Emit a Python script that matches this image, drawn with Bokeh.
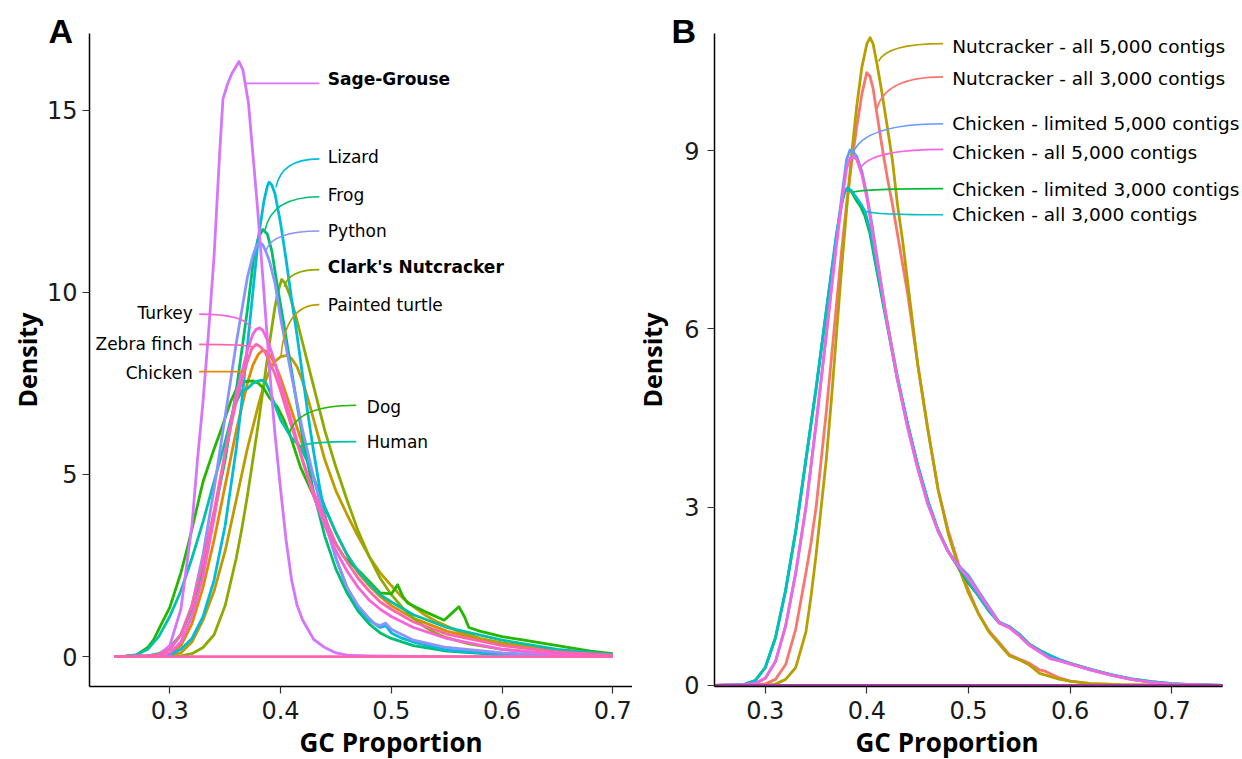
from bokeh.plotting import figure
from bokeh.layouts import row
from bokeh.models import Range1d, Label, FixedTicker, Title
from bokeh.embed import file_html
from bokeh.resources import INLINE

# ---------------- Panel A data (GC proportion vs density) ----------------
chicken_x = [0.25,0.29,0.30,0.31,0.32,0.33,0.34,0.35,0.36,0.37,0.375,0.38,0.384,0.388,0.392,0.396,0.40,0.405,0.41,0.42,0.43,0.44,0.45,0.46,0.47,0.48,0.49,0.50,0.52,0.55,0.60,0.65,0.70]
chicken_d = [0,0.02,0.08,0.3,0.9,1.9,3.2,4.7,6.2,7.5,8.0,8.3,8.41,8.37,8.2,7.95,7.65,7.2,6.75,5.8,4.9,4.1,3.4,2.8,2.3,1.95,1.65,1.4,1.05,0.7,0.33,0.14,0.05]

turtle_x = [0.25,0.30,0.31,0.32,0.33,0.34,0.35,0.36,0.37,0.38,0.385,0.39,0.395,0.40,0.406,0.41,0.415,0.42,0.425,0.43,0.435,0.44,0.45,0.46,0.47,0.48,0.49,0.50,0.51,0.52,0.53,0.54,0.55,0.56,0.58,0.60,0.65,0.70]
turtle_d = [0,0.02,0.1,0.4,1.0,1.8,2.9,4.3,5.7,6.9,7.45,7.85,8.1,8.23,8.27,8.18,7.95,7.55,7.05,6.5,5.95,5.4,4.55,3.9,3.3,2.75,2.3,1.95,1.62,1.37,1.15,0.98,0.84,0.7,0.5,0.38,0.17,0.05]

nutcracker_x = [0.25,0.31,0.32,0.33,0.34,0.35,0.36,0.365,0.37,0.375,0.38,0.385,0.39,0.395,0.398,0.401,0.404,0.408,0.41,0.415,0.42,0.425,0.43,0.435,0.44,0.445,0.45,0.455,0.46,0.47,0.48,0.49,0.50,0.51,0.52,0.53,0.54,0.55,0.57,0.60,0.65,0.70]
nutcracker_d = [0,0.02,0.08,0.25,0.6,1.4,2.7,3.5,4.4,5.4,6.4,7.5,8.6,9.6,10.05,10.35,10.25,9.95,9.75,9.2,8.6,8.0,7.4,6.8,6.2,5.7,5.2,4.75,4.3,3.45,2.75,2.15,1.7,1.35,1.05,0.82,0.65,0.52,0.35,0.2,0.07,0.02]

dog_x = [0.25,0.26,0.27,0.28,0.2855,0.29,0.30,0.31,0.316,0.32,0.33,0.34,0.346,0.355,0.361,0.368,0.375,0.38,0.385,0.39,0.397,0.403,0.409,0.418,0.43,0.442,0.457,0.4725,0.49,0.50,0.5057,0.5105,0.5147,0.533,0.5477,0.555,0.561,0.566,0.57,0.58,0.60,0.62,0.65,0.68,0.70]
dog_d = [0,0.01,0.05,0.25,0.47,0.75,1.35,2.3,3.0,3.5,4.8,5.7,6.2,7.0,7.4,7.55,7.57,7.5,7.35,7.1,6.86,6.5,6.04,5.2,4.4,3.48,2.75,2.3,1.75,1.72,1.97,1.65,1.47,1.2,1.0,1.2,1.37,1.1,0.8,0.7,0.55,0.45,0.3,0.15,0.08]

frog_x = [0.25,0.28,0.29,0.30,0.31,0.32,0.33,0.34,0.35,0.36,0.365,0.37,0.376,0.38,0.384,0.388,0.392,0.397,0.402,0.408,0.415,0.42,0.43,0.44,0.45,0.46,0.47,0.48,0.49,0.50,0.52,0.55,0.60,0.65,0.70]
frog_d = [0,0.02,0.08,0.25,0.6,1.3,2.4,3.9,5.4,7.3,8.4,9.5,11.0,11.5,11.72,11.6,11.15,10.2,9.3,8.2,6.9,6.0,4.5,3.3,2.4,1.75,1.25,0.9,0.65,0.5,0.3,0.15,0.05,0.02,0]

human_x = [0.25,0.26,0.27,0.28,0.29,0.30,0.31,0.32,0.33,0.34,0.35,0.358,0.365,0.37,0.375,0.38,0.3837,0.387,0.39,0.395,0.40,0.41,0.418,0.425,0.43,0.44,0.45,0.46,0.47,0.48,0.49,0.50,0.52,0.55,0.60,0.65,0.70]
human_d = [0,0.01,0.05,0.2,0.55,1.1,1.8,2.7,3.7,4.8,5.9,6.85,7.3,7.35,7.5,7.57,7.59,7.5,7.3,6.9,6.5,6.0,5.76,5.3,4.9,4.1,3.4,2.8,2.35,2.0,1.7,1.5,1.15,0.8,0.45,0.2,0.06]

lizard_x = [0.25,0.29,0.30,0.31,0.32,0.33,0.34,0.35,0.36,0.365,0.37,0.375,0.38,0.385,0.388,0.3897,0.392,0.395,0.40,0.405,0.41,0.415,0.42,0.425,0.43,0.435,0.44,0.45,0.46,0.47,0.48,0.49,0.495,0.50,0.51,0.52,0.55,0.60,0.65,0.70]
lizard_d = [0,0,0.05,0.2,0.5,1.1,2.1,3.6,5.7,7.0,8.5,10.0,11.5,12.5,12.9,13.02,12.95,12.7,11.9,10.9,9.8,8.8,7.7,6.6,5.6,4.7,3.9,2.7,1.9,1.35,1.0,0.8,0.85,0.65,0.5,0.4,0.18,0.06,0.02,0]

python_x = [0.25,0.28,0.29,0.30,0.31,0.32,0.33,0.34,0.35,0.36,0.37,0.375,0.378,0.381,0.384,0.387,0.39,0.395,0.40,0.41,0.42,0.43,0.44,0.45,0.46,0.47,0.48,0.485,0.49,0.495,0.50,0.51,0.52,0.55,0.60,0.65,0.70]
python_d = [0,0.02,0.05,0.2,0.6,1.4,2.8,4.6,6.6,8.6,10.4,11.0,11.25,11.38,11.3,11.1,10.85,10.25,9.3,7.7,6.2,4.9,3.7,2.7,1.9,1.4,1.05,0.9,0.85,0.92,0.75,0.6,0.45,0.25,0.1,0.04,0.01]

grouse_x = [0.25,0.27,0.28,0.29,0.30,0.31,0.32,0.325,0.33,0.335,0.34,0.345,0.348,0.352,0.356,0.3625,0.366,0.371,0.375,0.379,0.385,0.39,0.395,0.40,0.405,0.41,0.415,0.42,0.43,0.44,0.45,0.46,0.48,0.50,0.55,0.60,0.70]
grouse_d = [0,0,0.01,0.05,0.3,1.3,3.6,5.4,7.0,8.9,11.0,13.8,15.3,15.7,16.0,16.33,16.1,15.2,13.8,12.4,10.0,7.9,6.1,4.6,3.2,2.1,1.4,1.0,0.47,0.25,0.1,0.04,0.02,0.01,0,0,0]

turkey_x = [0.25,0.29,0.30,0.31,0.32,0.33,0.34,0.35,0.36,0.37,0.375,0.378,0.381,0.384,0.388,0.392,0.396,0.40,0.405,0.41,0.415,0.42,0.43,0.44,0.45,0.46,0.47,0.48,0.49,0.50,0.52,0.55,0.60,0.65,0.70]
turkey_d = [0,0.03,0.1,0.4,1.1,2.2,3.8,5.6,7.2,8.4,8.85,8.98,9.02,8.95,8.7,8.35,7.95,7.5,7.0,6.45,5.9,5.35,4.4,3.6,2.9,2.35,1.9,1.55,1.3,1.1,0.8,0.5,0.2,0.07,0.02]

finch_x = [0.25,0.28,0.29,0.30,0.31,0.32,0.33,0.34,0.35,0.36,0.37,0.374,0.378,0.382,0.386,0.39,0.395,0.40,0.405,0.41,0.42,0.43,0.44,0.45,0.46,0.47,0.48,0.49,0.50,0.52,0.55,0.60,0.65,0.70]
finch_d = [0,0.02,0.05,0.2,0.6,1.4,2.6,4.0,5.6,7.0,8.1,8.45,8.57,8.5,8.35,8.1,7.75,7.3,6.8,6.3,5.4,4.5,3.8,3.1,2.6,2.15,1.8,1.5,1.3,0.95,0.62,0.3,0.13,0.04]

a_series_x = [chicken_x, turtle_x, nutcracker_x, dog_x, frog_x, human_x, lizard_x, python_x, grouse_x, turkey_x, finch_x]
a_series_d = [chicken_d, turtle_d, nutcracker_d, dog_d, frog_d, human_d, lizard_d, python_d, grouse_d, turkey_d, finch_d]
a_colors = ["#E18A00", "#BE9C00", "#8CAB00", "#24B700", "#00BE70", "#00C1AB", "#00BBDA", "#8B93FF", "#D575FE", "#F962DD", "#FF65AC"]

# labels for panel A
a_label_text = ["Sage-Grouse", "Lizard", "Frog", "Python", "Clark's Nutcracker", "Painted turtle", "Turkey", "Zebra finch", "Chicken", "Dog", "Human"]
a_label_color = ["#D575FE", "#00BBDA", "#00BE70", "#8B93FF", "#8CAB00", "#BE9C00", "#F962DD", "#FF65AC", "#E18A00", "#24B700", "#00C1AB"]
a_label_bold = [True, False, False, False, True, False, False, False, False, False, False]
a_label_x = [0.4427, 0.4427, 0.4427, 0.4427, 0.4427, 0.4427, 0.3208, 0.3208, 0.3208, 0.4779, 0.4779]
a_label_y = [15.86, 13.71, 12.68, 11.68, 10.69, 9.66, 9.42, 8.59, 7.79, 6.84, 5.90]
a_label_align = ["left"] * 6 + ["right"] * 3 + ["left"] * 2
a_lead_x0 = [0.3688, 0.3959, 0.3860, 0.3869, 0.4034, 0.4005, 0.3733, 0.3748, 0.3688, 0.4080, 0.4170]
a_lead_y0 = [15.73, 12.88, 11.70, 11.15, 10.15, 8.27, 9.02, 8.50, 7.82, 6.13, 5.76]
a_lead_x1 = [0.4351, 0.4351, 0.4351, 0.4351, 0.4351, 0.4351, 0.3265, 0.3265, 0.3265, 0.4683, 0.4683]
a_lead_y1 = [15.73, 13.66, 12.62, 11.68, 10.62, 9.66, 9.40, 8.57, 7.82, 6.90, 5.90]

a_xticks = [0.3, 0.4, 0.5, 0.6, 0.7]
a_yticks = [0, 5, 10, 15]

# ---------------- Panel B data ----------------
n3_x = [0.25,0.30,0.31,0.32,0.33,0.34,0.345,0.35,0.355,0.36,0.365,0.37,0.375,0.38,0.385,0.39,0.395,0.3998,0.403,0.406,0.41,0.415,0.42,0.425,0.43,0.435,0.44,0.445,0.45,0.46,0.47,0.48,0.49,0.50,0.51,0.52,0.53,0.54,0.55,0.56,0.57,0.575,0.58,0.59,0.60,0.62,0.65,0.70,0.75]
n3_d = [0,0.02,0.1,0.35,0.95,1.9,2.4,3.0,3.8,4.6,5.5,6.4,7.3,8.1,8.8,9.4,9.95,10.31,10.25,10.05,9.6,9.05,8.55,8.1,7.6,7.1,6.6,6.0,5.4,4.3,3.3,2.6,2.05,1.6,1.2,0.92,0.72,0.52,0.44,0.37,0.26,0.24,0.2,0.12,0.07,0.03,0.01,0,0]

n5_x = [0.25,0.30,0.31,0.32,0.33,0.34,0.345,0.35,0.355,0.36,0.365,0.37,0.375,0.38,0.385,0.39,0.395,0.40,0.4031,0.406,0.41,0.415,0.42,0.425,0.43,0.435,0.44,0.445,0.45,0.46,0.47,0.48,0.49,0.50,0.51,0.52,0.53,0.54,0.55,0.56,0.57,0.58,0.59,0.60,0.62,0.65,0.70,0.75]
n5_d = [0,0,0.02,0.1,0.3,0.9,1.5,2.2,3.0,3.8,4.8,5.9,7.0,8.0,8.95,9.75,10.4,10.8,10.9,10.8,10.45,9.95,9.4,8.85,8.1,7.5,6.8,6.1,5.4,4.3,3.3,2.55,2.0,1.55,1.2,0.9,0.7,0.5,0.43,0.34,0.2,0.15,0.1,0.07,0.03,0.01,0,0]

c3_x = [0.25,0.27,0.28,0.29,0.30,0.31,0.32,0.33,0.34,0.35,0.36,0.37,0.375,0.378,0.381,0.385,0.39,0.394,0.398,0.403,0.41,0.42,0.43,0.44,0.45,0.46,0.47,0.48,0.49,0.50,0.51,0.52,0.53,0.54,0.55,0.56,0.57,0.58,0.59,0.60,0.62,0.64,0.66,0.68,0.70,0.72,0.75]
cl3_d = [0,0.005,0.02,0.08,0.3,0.8,1.6,2.6,3.8,5.0,6.3,7.55,8.1,8.3,8.37,8.3,8.15,8.05,7.9,7.6,6.95,6.05,5.15,4.4,3.7,3.1,2.62,2.25,1.98,1.72,1.5,1.26,1.06,0.99,0.86,0.69,0.59,0.5,0.43,0.37,0.27,0.18,0.11,0.06,0.03,0.01,0]
ca3_d = [0,0.005,0.02,0.08,0.3,0.8,1.6,2.6,3.8,5.0,6.3,7.6,8.1,8.3,8.37,8.32,8.2,8.1,7.98,7.67,7.0,6.1,5.2,4.4,3.7,3.1,2.6,2.25,2.0,1.75,1.5,1.25,1.05,0.98,0.85,0.68,0.58,0.5,0.43,0.37,0.27,0.18,0.11,0.06,0.03,0.01,0]

c5_x = [0.25,0.28,0.29,0.30,0.31,0.32,0.33,0.34,0.35,0.36,0.37,0.375,0.38,0.3834,0.386,0.39,0.395,0.40,0.405,0.41,0.42,0.43,0.44,0.45,0.46,0.47,0.48,0.49,0.50,0.51,0.52,0.53,0.54,0.55,0.56,0.57,0.58,0.59,0.60,0.62,0.64,0.66,0.68,0.70,0.72,0.75]
cl5_d = [0,0.01,0.03,0.12,0.4,1.0,1.9,3.0,4.4,5.9,7.5,8.2,8.85,9.01,8.98,8.9,8.65,8.25,7.75,7.2,6.1,5.15,4.35,3.65,3.05,2.6,2.25,2.02,1.85,1.58,1.32,1.07,0.98,0.84,0.68,0.57,0.46,0.41,0.36,0.26,0.17,0.1,0.05,0.02,0.01,0]
ca5_d = [0,0.01,0.03,0.12,0.4,1.0,1.9,3.0,4.4,5.9,7.4,8.1,8.7,8.87,8.9,8.85,8.6,8.2,7.67,7.15,6.1,5.15,4.35,3.65,3.05,2.6,2.25,2.0,1.8,1.55,1.3,1.05,0.97,0.83,0.67,0.56,0.45,0.41,0.36,0.26,0.17,0.1,0.05,0.02,0.01,0]

b_series_x = [n3_x, n5_x, c3_x, c3_x, c5_x, c5_x]
b_series_d = [n3_d, n5_d, cl3_d, ca3_d, cl5_d, ca5_d]
b_colors = ["#F8766D", "#B79F00", "#00BA38", "#00BFC4", "#619CFF", "#F564E3"]

b_label_text = ["Nutcracker - all 5,000 contigs", "Nutcracker - all 3,000 contigs",
                "Chicken - limited 5,000 contigs", "Chicken - all 5,000 contigs",
                "Chicken - limited 3,000 contigs", "Chicken - all 3,000 contigs"]
b_label_color = ["#B79F00", "#F8766D", "#619CFF", "#F564E3", "#00BA38", "#00BFC4"]
b_label_x = [0.4839] * 6
b_label_y = [10.75, 10.22, 9.45, 8.97, 8.34, 7.92]
b_lead_x0 = [0.4115, 0.4099, 0.3865, 0.3935, 0.3865, 0.3982]
b_lead_y0 = [10.50, 9.70, 8.96, 8.70, 8.30, 7.98]
b_lead_x1 = [0.475] * 6
b_lead_y1 = [10.80, 10.24, 9.45, 9.02, 8.36, 7.92]

b_xticks = [0.3, 0.4, 0.5, 0.6, 0.7]
b_yticks = [0, 3, 6, 9]

TICK_FONT = "DejaVu Sans"
LABEL_FONT = "DejaVu Sans"
TITLE_FONT = "Open Sans"


def style(p, xticks, yticks):
    p.xgrid.visible = False
    p.ygrid.visible = False
    p.outline_line_color = None
    p.background_fill_color = "white"
    p.border_fill_color = "white"
    for ax in (p.xaxis[0], p.yaxis[0]):
        ax.axis_line_color = "black"
        ax.axis_line_width = 1.5
        ax.major_tick_line_color = "#333333"
        ax.major_tick_line_width = 1.2
        ax.major_tick_out = 7
        ax.major_tick_in = 0
        ax.minor_tick_line_color = None
        ax.major_label_text_font = TICK_FONT
        ax.major_label_text_font_size = "24px"
        ax.major_label_text_color = "#1a1a1a"
    p.xaxis[0].major_label_standoff = 7
    p.xaxis[0].ticker = FixedTicker(ticks=xticks)
    p.yaxis[0].ticker = FixedTicker(ticks=yticks)
    p.yaxis[0].axis_label = "Density"
    p.yaxis[0].axis_label_text_font = TITLE_FONT
    p.yaxis[0].axis_label_text_font_style = "bold"
    p.yaxis[0].axis_label_text_font_size = "25px"
    p.yaxis[0].axis_label_text_color = "black"


def leaders(p, x0, y0, x1, y1, colors):
    for i in range(len(x0)):
        cx = x0[i] + 0.12 * (x1[i] - x0[i])
        cy = y1[i]
        p.quadratic(x0=[x0[i]], y0=[y0[i]], x1=[x1[i]], y1=[y1[i]], cx=[cx], cy=[cy],
                    line_color=colors[i], line_width=1.6)


def panel_letter(p, letter, offset):
    p.title.text = letter
    p.title.align = "left"
    p.title.offset = offset
    p.title.standoff = -32
    p.title.text_font = "Liberation Sans"
    p.title.text_font_style = "bold"
    p.title.text_font_size = "34px"
    p.title.text_color = "black"


def x_title(p, offset):
    p.add_layout(Title(text="GC Proportion", align="left", offset=offset, standoff=0,
                       text_font=TITLE_FONT, text_font_style="bold", text_font_size="26px",
                       text_line_height=1.0, text_color="black"), "below")


# ---------------- Panel A ----------------
pA = figure(width=632, height=759, x_range=Range1d(0.2275, 0.7178), y_range=Range1d(-0.82, 17.1),
            min_border_left=89, min_border_right=0, min_border_top=33, min_border_bottom=72,
            output_backend="svg", toolbar_location=None)
style(pA, a_xticks, a_yticks)
pA.yaxis[0].major_label_standoff = 5
pA.yaxis[0].axis_label_standoff = 0
panel_letter(pA, "A", -41)
x_title(pA, 210)

for xs, ds, c in zip(a_series_x, a_series_d, a_colors):
    pA.line(xs, ds, line_color=c, line_width=2.8, line_join="round")
# baseline of the top-most density outline
pA.line([finch_x[0], finch_x[-1]], [0, 0], line_color=a_colors[-1], line_width=2.8)

leaders(pA, a_lead_x0, a_lead_y0, a_lead_x1, a_lead_y1, a_label_color)
for t, x, y, b, al in zip(a_label_text, a_label_x, a_label_y, a_label_bold, a_label_align):
    pA.add_layout(Label(x=x, y=y, text=t, text_align=al, text_baseline="middle",
                        text_font=LABEL_FONT, text_font_size="17px",
                        text_font_style="bold" if b else "normal", text_color="black"))

# ---------------- Panel B ----------------
pB = figure(width=610, height=759, x_range=Range1d(0.25, 0.7696), y_range=Range1d(-0.02, 10.97),
            min_border_left=79, min_border_right=0, min_border_top=33, min_border_bottom=71,
            output_backend="svg", toolbar_location=None)
style(pB, b_xticks, b_yticks)
pB.xaxis[0].bounds = (0.25, 0.75)
pB.yaxis[0].major_label_standoff = 8
pB.yaxis[0].axis_label_standoff = 12
panel_letter(pB, "B", -43)
x_title(pB, 141)

for xs, ds, c in zip(b_series_x, b_series_d, b_colors):
    pB.line(xs, ds, line_color=c, line_width=2.8, line_join="round")
pB.line([c5_x[0], c5_x[-1]], [0, 0], line_color="#B03CA8", line_width=2.4)

leaders(pB, b_lead_x0, b_lead_y0, b_lead_x1, b_lead_y1, b_label_color)
for t, x, y in zip(b_label_text, b_label_x, b_label_y):
    pB.add_layout(Label(x=x, y=y, text=t, text_align="left", text_baseline="middle",
                        text_font=LABEL_FONT, text_font_size="18.5px", text_color="black"))

layout = row(pA, pB)
open("out.html", "w").write(file_html(layout, INLINE))
